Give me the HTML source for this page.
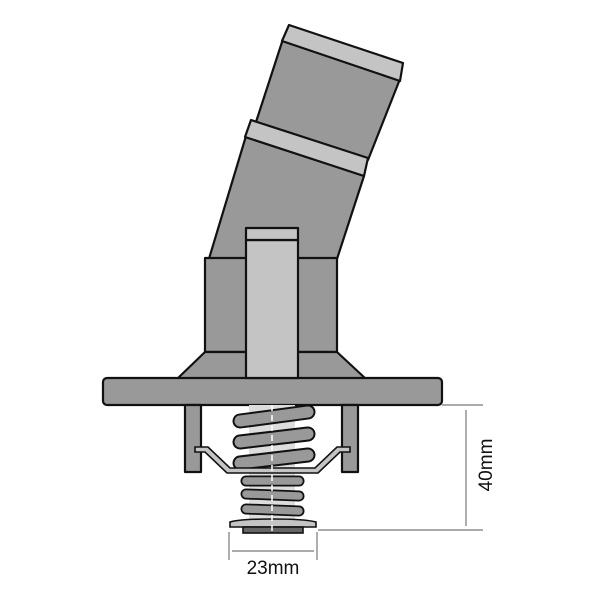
<!DOCTYPE html>
<html><head><meta charset="utf-8"><style>html,body{margin:0;padding:0;background:#fff}svg{display:block}</style></head><body>
<svg width="600" height="600" viewBox="0 0 600 600" xmlns="http://www.w3.org/2000/svg" font-family="Liberation Sans, sans-serif">
<g stroke="#111" stroke-width="2.2" stroke-linejoin="round">
<polygon points="246,136 364,176 336,262 208,262" fill="#999"/>
<polygon points="283,39 400,79 368,160 256,122" fill="#999"/>
<polygon points="251,120 368,158 364,176 245,137" fill="#c4c4c4"/>
<polygon points="289,25 403,63 400,81 282,41" fill="#c4c4c4"/>
<rect x="205" y="258" width="132" height="94" fill="#999"/>
<polygon points="205,352 337,352 366,379 177,379" fill="#999"/>
<rect x="103" y="378" width="339" height="27" rx="4" fill="#999"/>
<rect x="246" y="240" width="52" height="138" fill="#c4c4c4"/>
<rect x="246" y="228" width="52" height="12" fill="#c4c4c4"/>
<rect x="185" y="405" width="16" height="67" fill="#999"/>
<rect x="342" y="405" width="16" height="67" fill="#999"/>
<rect x="249" y="405" width="46" height="120" fill="#ddd" stroke="none"/>
</g>
<g fill="none" stroke-linecap="round">
<g stroke="#111" stroke-width="15">
<path d="M240,421 L308,412"/><path d="M240,442 L308,434"/><path d="M240,463 L308,455"/>
</g>
<g stroke="#999" stroke-width="11">
<path d="M240,421 L308,412"/><path d="M240,442 L308,434"/><path d="M240,463 L308,455"/>
</g>
</g>
<g stroke="#111" stroke-width="1.6" fill="#c4c4c4">
<path d="M195,447 L208,447 L230,468 L315,468 L337,447 L350,447 L350,452 L340,452 L318,473 L227,473 L205,452 L195,452Z"/>
</g>
<g fill="none" stroke-linecap="round">
<g stroke="#111" stroke-width="11">
<path d="M246,481 L299,481"/><path d="M246,494 L299,496"/><path d="M246,509 L299,511"/>
</g>
<g stroke="#999" stroke-width="7.5">
<path d="M246,481 L299,481"/><path d="M246,494 L299,496"/><path d="M246,509 L299,511"/>
</g>
</g>
<g stroke="#111" stroke-width="1.6">
<path d="M230,522 Q240,519 272,519 Q305,519 316,522 L316,527 L230,527Z" fill="#c4c4c4"/>
<rect x="243" y="527" width="60" height="6" fill="#666"/>
</g>
<line x1="272" y1="405" x2="272" y2="540" stroke="#fff" stroke-width="1.5" stroke-dasharray="6,4"/>
<g stroke="#777" stroke-width="1.2">
<line x1="442" y1="405" x2="483" y2="405"/>
<line x1="318" y1="530" x2="483" y2="530"/>
<line x1="466" y1="410" x2="466" y2="526"/>
<line x1="229" y1="532" x2="229" y2="560"/>
<line x1="317" y1="532" x2="317" y2="560"/>
<line x1="232" y1="551" x2="314" y2="551"/>
</g>
<text x="273" y="574" font-size="19" text-anchor="middle" fill="#111">23mm</text>
<text transform="translate(492,465) rotate(-90)" font-size="19" text-anchor="middle" fill="#111">40mm</text>
</svg>
</body></html>
